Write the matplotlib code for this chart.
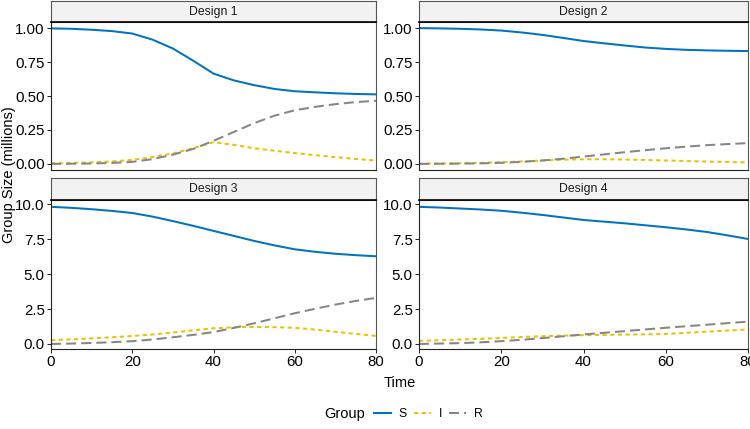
import matplotlib
matplotlib.use("Agg")
import matplotlib.pyplot as plt
from matplotlib.lines import Line2D

plt.rcParams["font.family"] = ["Liberation Sans", "DejaVu Sans"]

# data (millions)
time = [0, 5, 10, 15, 20, 25, 30, 35, 40, 45, 50, 55, 60, 65, 70, 75, 80]

d1_s = [0.998, 0.995, 0.988, 0.978, 0.96, 0.915, 0.85, 0.76, 0.665, 0.615, 0.58, 0.552, 0.535, 0.527, 0.52, 0.515, 0.512]
d1_i = [0.005, 0.007, 0.011, 0.018, 0.03, 0.05, 0.077, 0.115, 0.16, 0.14, 0.115, 0.097, 0.08, 0.064, 0.05, 0.036, 0.025]
d1_r = [0.0, 0.001, 0.003, 0.007, 0.015, 0.035, 0.068, 0.11, 0.17, 0.235, 0.3, 0.355, 0.395, 0.42, 0.44, 0.455, 0.465]

d2_s = [1.0, 0.998, 0.995, 0.99, 0.982, 0.968, 0.95, 0.928, 0.905, 0.888, 0.872, 0.857, 0.847, 0.84, 0.836, 0.833, 0.831]
d2_i = [0.002, 0.003, 0.005, 0.008, 0.012, 0.018, 0.025, 0.031, 0.034, 0.034, 0.032, 0.029, 0.025, 0.021, 0.017, 0.014, 0.011]
d2_r = [0.0, 0.001, 0.002, 0.004, 0.008, 0.015, 0.025, 0.038, 0.054, 0.07, 0.086, 0.101, 0.115, 0.127, 0.138, 0.146, 0.153]

d3_s = [9.82, 9.75, 9.65, 9.53, 9.38, 9.12, 8.8, 8.46, 8.1, 7.74, 7.38, 7.06, 6.78, 6.6, 6.46, 6.36, 6.28]
d3_i = [0.27, 0.33, 0.4, 0.48, 0.57, 0.68, 0.82, 0.98, 1.12, 1.2, 1.22, 1.2, 1.16, 1.03, 0.87, 0.72, 0.58]
d3_r = [0.0, 0.03, 0.07, 0.13, 0.2, 0.32, 0.48, 0.65, 0.85, 1.15, 1.48, 1.84, 2.2, 2.52, 2.82, 3.08, 3.3]

d4_s = [9.82, 9.77, 9.7, 9.63, 9.54, 9.4, 9.24, 9.06, 8.88, 8.76, 8.64, 8.5, 8.36, 8.2, 8.02, 7.78, 7.52]
d4_i = [0.22, 0.27, 0.32, 0.37, 0.43, 0.5, 0.56, 0.6, 0.63, 0.65, 0.67, 0.69, 0.72, 0.8, 0.88, 0.96, 1.04]
d4_r = [0.0, 0.03, 0.06, 0.12, 0.2, 0.3, 0.42, 0.55, 0.68, 0.8, 0.92, 1.04, 1.16, 1.27, 1.38, 1.49, 1.6]

designs = ["Design 1", "Design 2", "Design 3", "Design 4"]
series = [(d1_s, d1_i, d1_r), (d2_s, d2_i, d2_r), (d3_s, d3_i, d3_r), (d4_s, d4_i, d4_r)]
groups = ["S", "I", "R"]
colors = ["#0073C2", "#EFC000", "#868686"]
styles = ["-", (0, (2.1, 1.7)), (0, (5.0, 2.5))]

top_ticks = [0.0, 0.25, 0.5, 0.75, 1.0]
top_labels = ["0.00", "0.25", "0.50", "0.75", "1.00"]
bot_ticks = [0.0, 2.5, 5.0, 7.5, 10.0]
bot_labels = ["0.0", "2.5", "5.0", "7.5", "10.0"]
x_ticks = [0, 20, 40, 60, 80]

W, H = 750, 429
fig = plt.figure(figsize=(W / 100, H / 100), dpi=100)

# panel boxes in pixels: (left, right) and (strip_top, panel_top, panel_bottom)
cols = [(51, 376), (419, 748)]
rows = [(1, 22, 170), (178, 200, 349)]
lw = 1.45

for k, name in enumerate(designs):
    r, c = divmod(k, 2)
    x0, x1 = cols[c]
    st, pt, pb = rows[r]
    ax = fig.add_axes([x0 / W, 1 - pb / H, (x1 - x0) / W, (pb - pt) / H])
    for vals, col, ls, g in zip(series[k], colors, styles, groups):
        ax.plot(time, vals, color=col, linestyle=ls, linewidth=lw, label=g)
    ax.set_xlim(0, 80)
    if r == 0:
        ax.set_ylim(-0.045, 1.045)
        ax.set_yticks(top_ticks)
        ax.set_yticklabels(top_labels)
    else:
        ax.set_ylim(-0.36, 10.31)
        ax.set_yticks(bot_ticks)
        ax.set_yticklabels(bot_labels)
    ax.set_xticks(x_ticks)
    ax.tick_params(labelsize=10.8, colors="black", width=0.6, length=3, pad=1.5)
    if r == 0:
        ax.set_xticklabels([])
        ax.tick_params(axis="x", length=0)
    for side in ["top", "right"]:
        ax.spines[side].set_color("#555555")
        ax.spines[side].set_linewidth(0.8)
    for side in ["left", "bottom"]:
        ax.spines[side].set_color("#222222")
        ax.spines[side].set_linewidth(0.8)

    # facet strip
    sax = fig.add_axes([x0 / W, 1 - pt / H, (x1 - x0) / W, (pt - st) / H])
    sax.set_facecolor("#F2F2F2")
    sax.set_xticks([])
    sax.set_yticks([])
    for side in ["top", "left", "right"]:
        sax.spines[side].set_color("#555555")
        sax.spines[side].set_linewidth(0.8)
    sax.spines["bottom"].set_color("black")
    sax.spines["bottom"].set_linewidth(1.2)
    sax.text(0.5, 0.48, name, transform=sax.transAxes, ha="center", va="center",
             fontsize=8.8, color="#1a1a1a")

fig.text(399.5 / W, 1 - 383 / H, "Time", ha="center", va="center", fontsize=10.5)
fig.text(9 / W, 1 - 175 / H, "Group Size (millions)", rotation=90,
         ha="center", va="center", fontsize=10.5)

# legend
fig.text(365 / W, 1 - 414 / H, "Group", ha="right", va="center", fontsize=10.5)
handles = [Line2D([0], [0], color=c, linestyle=ls, linewidth=lw)
           for c, ls in zip(colors, styles)]
fig.legend(handles, groups, loc="center left", bbox_to_anchor=(368 / W, 1 - 414 / H),
           ncol=3, frameon=False, fontsize=8.8, handlelength=1.4,
           handletextpad=0.6, columnspacing=0.6, borderpad=0)

fig.savefig("out.png", dpi=100)
